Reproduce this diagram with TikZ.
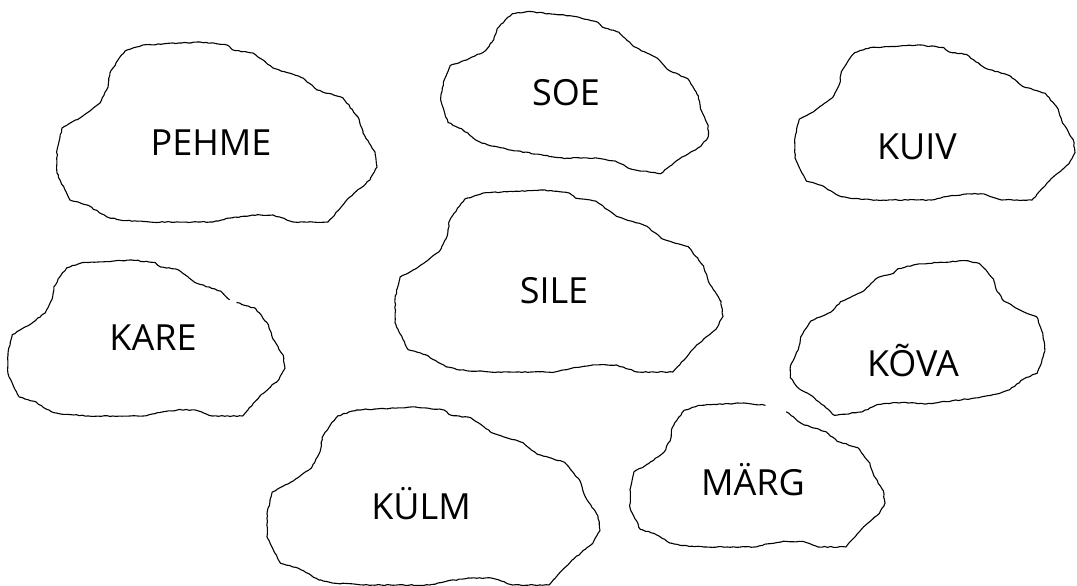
\documentclass[tikz,border=0pt]{standalone}
\usepackage{fontspec}
\setmainfont{Open Sans}
\usetikzlibrary{decorations.pathmorphing}
\pgfmathsetseed{7}
\tikzset{
  blobline/.style={draw=black, line width=1.1pt, line join=round,
    decorate, decoration={random steps, segment length=3pt, amplitude=0.5pt}},
  word/.style={anchor=base, inner sep=0pt, font=\fontsize{36}{40}\selectfont},
  blob/.pic={
    \draw[blobline] (0.225,-0.878) -- (0.35,-0.711) -- (0.5375,-0.6) -- (0.625,-0.467)
      -- (0.7875,-0.378) -- (0.881,-0.167) -- (0.9125,0.011) -- (0.9875,0.222)
      -- (1,0.389) -- (0.956,0.533) -- (0.831,0.722) -- (0.694,1) -- (0.475,1)
      -- (0.35,0.922) -- (0.225,0.922) -- (0.081,0.956) -- (-0.025,1) -- (-0.419,1)
      -- (-0.606,0.978) -- (-0.6875,0.944) -- (-0.8125,0.811) -- (-0.919,0.756)
      -- (-0.981,0.533) -- (-1,0.456) -- (-1,0.2) -- (-0.969,-0.044) -- (-0.856,-0.156)
      -- (-0.731,-0.322) -- (-0.681,-0.5) -- (-0.669,-0.656) -- (-0.619,-0.8)
      -- (-0.575,-0.9) -- (-0.4625,-0.967) -- (-0.106,-1) -- (0.0625,-0.967)
      -- (0.1,-0.911) -- cycle;
  },
  blobgap/.pic={
    \draw[blobline] (0.225,-0.878) -- (0.35,-0.711) -- (0.5375,-0.6) -- (0.625,-0.467)
      -- (0.7875,-0.378) -- (0.881,-0.167) -- (0.9125,0.011) -- (0.9875,0.222)
      -- (1,0.389) -- (0.956,0.533) -- (0.831,0.722) -- (0.694,1) -- (0.475,1)
      -- (0.35,0.922) -- (0.225,0.922) -- (0.081,0.956) -- (-0.025,1) -- (-0.419,1)
      -- (-0.606,0.978) -- (-0.6875,0.944) -- (-0.8125,0.811) -- (-0.919,0.756)
      -- (-0.981,0.533) -- (-1,0.456) -- (-1,0.2) -- (-0.969,-0.044) -- (-0.856,-0.156)
      -- (-0.731,-0.322) -- (-0.681,-0.5) -- (-0.669,-0.656) -- (-0.619,-0.8)
      -- (-0.575,-0.9) -- (-0.4625,-0.967) -- (-0.106,-1) -- (0.0625,-0.967);
  },
  blobnick/.pic={
    \draw[blobline] (0.65,-0.455)
      -- (0.7875,-0.378) -- (0.881,-0.167) -- (0.9125,0.011) -- (0.9875,0.222)
      -- (1,0.389) -- (0.956,0.533) -- (0.831,0.722) -- (0.694,1) -- (0.475,1)
      -- (0.35,0.922) -- (0.225,0.922) -- (0.081,0.956) -- (-0.025,1) -- (-0.419,1)
      -- (-0.606,0.978) -- (-0.6875,0.944) -- (-0.8125,0.811) -- (-0.919,0.756)
      -- (-0.981,0.533) -- (-1,0.456) -- (-1,0.2) -- (-0.969,-0.044) -- (-0.856,-0.156)
      -- (-0.731,-0.322) -- (-0.681,-0.5) -- (-0.669,-0.656) -- (-0.619,-0.8)
      -- (-0.575,-0.9) -- (-0.4625,-0.967) -- (-0.106,-1) -- (0.0625,-0.967)
      -- (0.1,-0.911) -- (0.225,-0.878) -- (0.35,-0.711) -- (0.5375,-0.6) -- (0.60,-0.49);
  }
}
\begin{document}
\begin{tikzpicture}[x=1pt,y=-1pt]
\useasboundingbox[fill=white] (0,0) rectangle (1077,586);
% blobs
\pic[xscale=160, yscale=90] at (217,132) {blob};
\pic[rotate=-9, xscale=135, yscale=71] at (579,89) {blob};
\pic[xscale=140, yscale=77.5] at (935,122.5) {blob};
\pic[xscale=164, yscale=91] at (559,281) {blob};
\pic[xscale=138.5, yscale=78] at (146.5,338) {blobnick};
\pic[rotate=7, xscale=-128, yscale=70] at (914,335) {blob};
\pic[xscale=166.5, yscale=89] at (433.5,496) {blob};
\pic[xscale=127.5, yscale=72] at (757.5,475) {blobgap};
% words
\node[word] (pehme) at (211,155) {PEHME};
\node[word] (soe) at (566,106) {SOE};
\node[word] (kuiv) at (917,159) {KUIV};
\node[word] (sile) at (554,303) {SILE};
\node[word] (kare) at (153,350) {KARE};
\node[word] (kova) at (913,376) {KÕVA};
\node[word] (kulm) at (421,519) {KÜLM};
\node[word] (marg) at (753,495) {MÄRG};
\end{tikzpicture}
\end{document}
